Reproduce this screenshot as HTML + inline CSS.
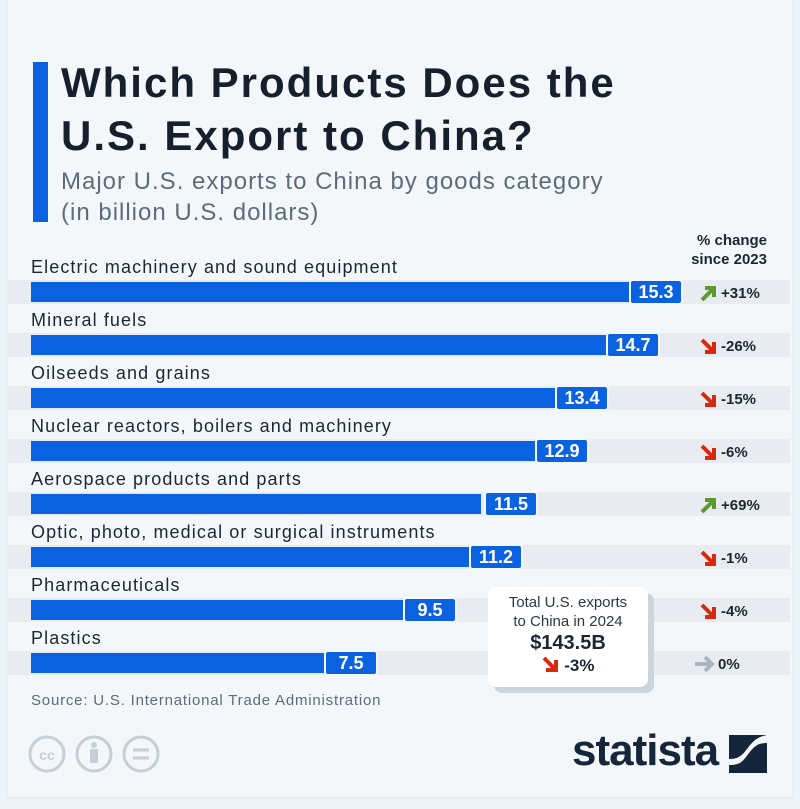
<!DOCTYPE html>
<html><head><meta charset="utf-8"><style>
*{margin:0;padding:0;box-sizing:border-box}
body{width:800px;height:809px;background:#eef3f8;position:relative;overflow:hidden;font-family:"Liberation Sans",sans-serif}
.panel{position:absolute;left:8px;top:0;width:784px;height:797px;background:#f4f7fa;box-shadow:0 1px 2px #dde3ea}
.a{position:absolute;white-space:nowrap}
.lab{font-size:18px;color:#1b2733;letter-spacing:1.1px}
.stripe{position:absolute;left:8px;width:782px;height:24px;background:#e8ecf1}
.bar{position:absolute;left:31px;height:20px;background:#0b62e0}
.val{position:absolute;width:54px;height:26px;background:#0b62e0;border:2px solid #f4f7fa;border-radius:4px;color:#fff;font-weight:bold;font-size:18px;text-align:center;line-height:22px}
.pct{position:absolute;left:721px;font-size:15px;font-weight:bold;color:#1b2733}
</style></head><body>
<div class="panel"></div>
<div class="a" style="left:33px;top:62px;width:15px;height:160px;background:#0b62e0"></div>
<div class="a" style="left:61px;top:56px;font-size:42px;font-weight:bold;color:#15202c;line-height:53px;letter-spacing:2px">Which Products Does the<br>U.S. Export to China?</div>
<div class="a" style="left:61px;top:166px;font-size:24px;color:#5b6d7d;line-height:31px;letter-spacing:1px">Major U.S. exports to China by goods category<br>(in billion U.S. dollars)</div>
<div class="a" style="left:670px;top:231px;width:97px;text-align:right;font-size:15px;font-weight:bold;color:#1b2733;line-height:19px">% change<br>since 2023</div>
<div class="stripe" style="top:280px"></div><div class="bar" style="top:282px;width:600px"></div><div class="val" style="left:629px;top:279px">15.3</div><div class="a lab" style="left:31px;top:257px">Electric machinery and sound equipment</div>
<div class="stripe" style="top:333px"></div><div class="bar" style="top:335px;width:576px"></div><div class="val" style="left:606px;top:332px">14.7</div><div class="a lab" style="left:31px;top:310px">Mineral fuels</div>
<div class="stripe" style="top:386px"></div><div class="bar" style="top:388px;width:525px"></div><div class="val" style="left:555px;top:385px">13.4</div><div class="a lab" style="left:31px;top:363px">Oilseeds and grains</div>
<div class="stripe" style="top:439px"></div><div class="bar" style="top:441px;width:505px"></div><div class="val" style="left:535px;top:438px">12.9</div><div class="a lab" style="left:31px;top:416px">Nuclear reactors, boilers and machinery</div>
<div class="stripe" style="top:492px"></div><div class="bar" style="top:494px;width:450px"></div><div class="val" style="left:484px;top:491px">11.5</div><div class="a lab" style="left:31px;top:469px">Aerospace products and parts</div>
<div class="stripe" style="top:545px"></div><div class="bar" style="top:547px;width:438px"></div><div class="val" style="left:469px;top:544px">11.2</div><div class="a lab" style="left:31px;top:522px">Optic, photo, medical or surgical instruments</div>
<div class="stripe" style="top:598px"></div><div class="bar" style="top:600px;width:372px"></div><div class="val" style="left:403px;top:597px">9.5</div><div class="a lab" style="left:31px;top:575px">Pharmaceuticals</div>
<div class="stripe" style="top:651px"></div><div class="bar" style="top:653px;width:294px"></div><div class="val" style="left:324px;top:650px">7.5</div><div class="a lab" style="left:31px;top:628px">Plastics</div>
<svg width="800" height="809" style="position:absolute;left:0;top:0">
<g stroke="#5c9a2c" transform="translate(700,284)"><path d="M2 16 L13 5 M5 4 H14 V13" stroke-width="4" fill="none"/></g>
<g stroke="#d52a10" transform="translate(700,337)"><path d="M2 3 L13 14 M14 5 V15 H5" stroke-width="4" fill="none"/></g>
<g stroke="#d52a10" transform="translate(700,390)"><path d="M2 3 L13 14 M14 5 V15 H5" stroke-width="4" fill="none"/></g>
<g stroke="#d52a10" transform="translate(700,443)"><path d="M2 3 L13 14 M14 5 V15 H5" stroke-width="4" fill="none"/></g>
<g stroke="#5c9a2c" transform="translate(700,496)"><path d="M2 16 L13 5 M5 4 H14 V13" stroke-width="4" fill="none"/></g>
<g stroke="#d52a10" transform="translate(700,549)"><path d="M2 3 L13 14 M14 5 V15 H5" stroke-width="4" fill="none"/></g>
<g stroke="#d52a10" transform="translate(700,602)"><path d="M2 3 L13 14 M14 5 V15 H5" stroke-width="4" fill="none"/></g>
<g stroke="#a9b6bf" transform="translate(694,655)"><path d="M1 9 H18 M11 2 L18 9 L11 16" stroke-width="4" fill="none"/></g>
</svg>
<div class="pct" style="top:285px">+31%</div>
<div class="pct" style="top:338px">-26%</div>
<div class="pct" style="top:391px">-15%</div>
<div class="pct" style="top:444px">-6%</div>
<div class="pct" style="top:497px">+69%</div>
<div class="pct" style="top:550px">-1%</div>
<div class="pct" style="top:603px">-4%</div>
<div class="pct" style="top:656px;left:718px">0%</div>
<div class="a" style="left:494px;top:593px;width:160px;height:100px;background:#cdd5dc;border-radius:8px"></div>
<div class="a" style="left:488px;top:587px;width:160px;height:100px;background:#fff;border-radius:8px;text-align:center;color:#1b2733">
<div style="font-size:15px;line-height:19px;margin-top:6px;color:#2a3744">Total U.S. exports<br>to China in 2024</div>
<div style="font-size:20px;font-weight:bold;line-height:24px">$143.5B</div>
<div style="font-size:17px;font-weight:bold;line-height:22px"><svg width="18" height="16" style="vertical-align:-1px"><path d="M2 2 L13 13 M14 4 V14 H4" stroke="#d52a10" stroke-width="4" fill="none"/></svg> -3%</div>
</div>
<div class="a" style="left:31px;top:692px;font-size:15px;color:#5b6d7d;letter-spacing:0.8px">Source: U.S. International Trade Administration</div>
<svg width="140" height="44" style="position:absolute;left:28px;top:734px" fill="none" stroke="#c6ced6" stroke-width="3">
<circle cx="19" cy="20" r="17"/><text x="19" y="26" font-size="14" font-weight="bold" fill="#c6ced6" stroke="none" text-anchor="middle" font-family="Liberation Sans">cc</text>
<circle cx="66" cy="20" r="17"/><circle cx="66" cy="11" r="3" fill="#c6ced6" stroke="none"/><rect x="62" y="15" width="8" height="14" fill="#c6ced6" stroke="none"/>
<circle cx="113" cy="20" r="17"/><path d="M105 16 H121 M105 24 H121"/>
</svg>
<div class="a" style="left:572px;top:726px;font-size:44px;font-weight:bold;color:#15263a;letter-spacing:-1px">statista</div>
<svg width="40" height="40" style="position:absolute;left:729px;top:735px"><rect width="38" height="38" fill="#15263a"/><path d="M0 30 C12 30 14 26 20 18 C26 10 30 8 38 8 L38 0 L38 0 C28 2 24 6 18 14 C12 22 8 24 0 24Z" fill="#f4f7fa"/></svg>
</body></html>
